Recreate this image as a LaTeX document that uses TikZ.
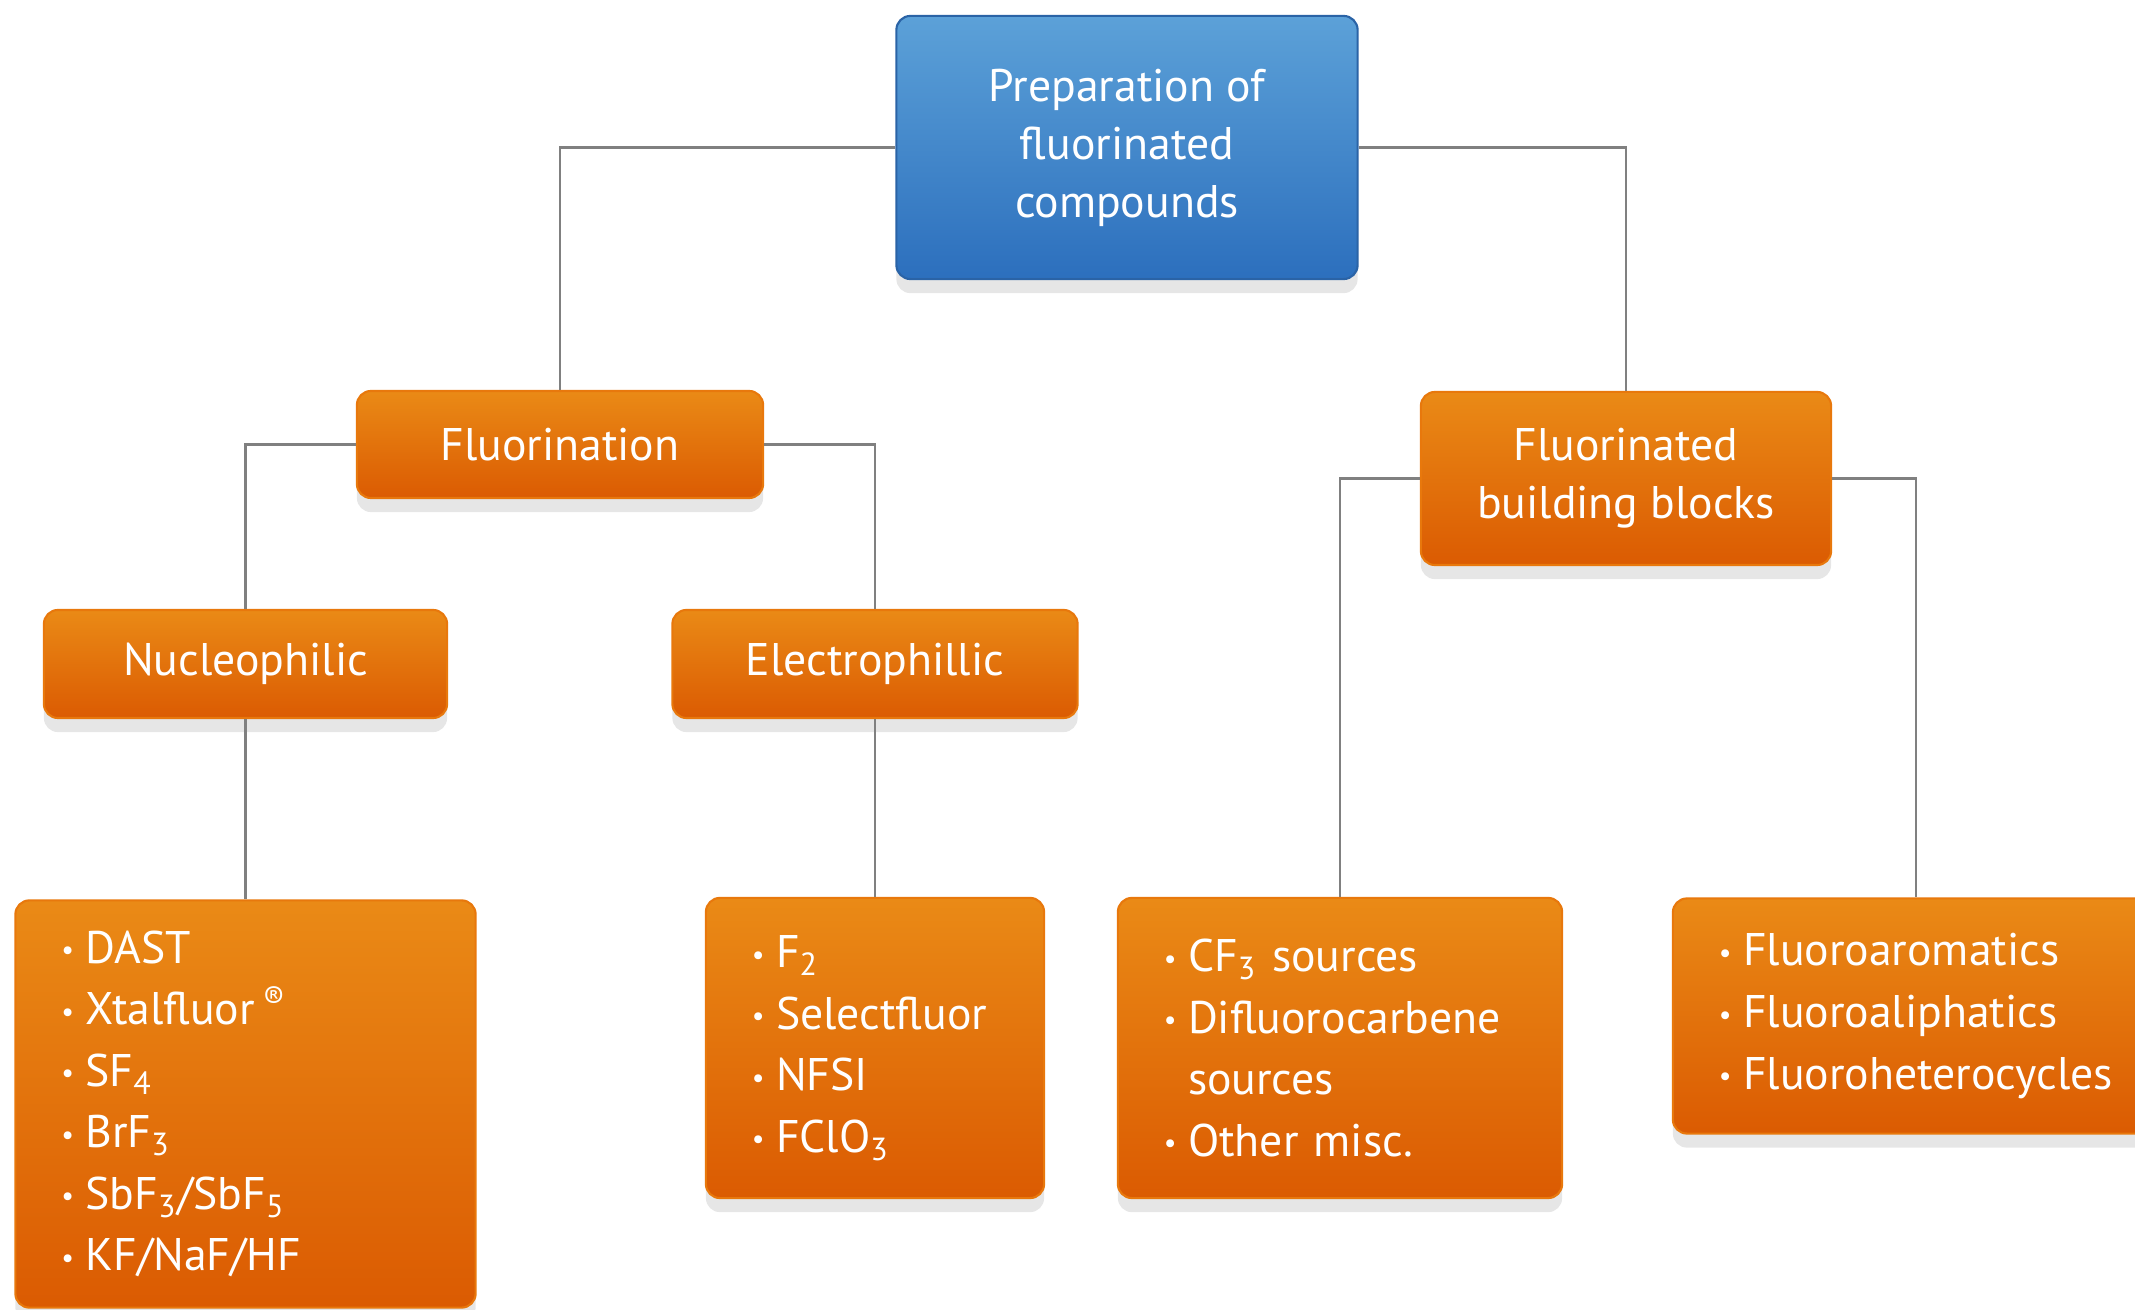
\documentclass[tikz,border=0pt]{standalone}
\usepackage{fontspec}
\setmainfont{PT Sans}
\usepackage{tikz}
\usetikzlibrary{shadows}
\usepackage{xcolor}
\definecolor{ortop}{HTML}{EA8A16}
\definecolor{orbot}{HTML}{DB5B02}
\definecolor{oredge}{HTML}{E8780C}
\definecolor{bltop}{HTML}{5CA1D8}
\definecolor{blbot}{HTML}{2C6FBD}
\definecolor{bledge}{HTML}{2A63A6}
\definecolor{wiregray}{HTML}{808080}
\newcommand{\bul}{\raisebox{0.15ex}{\fontsize{8}{8}\selectfont\textbullet}\hspace{0.25em}}
\newcommand{\sbs}[1]{\textsubscript{#1}}
\newcommand{\boxfont}{\fontsize{13}{16.5}\selectfont}
\newcommand{\listfont}{\fontsize{13}{17.5}\selectfont}

\tikzset{
  box/.style={rounded corners=4pt, draw=oredge, line width=0.6pt,
    top color=ortop, bottom color=orbot, text=white, font=\boxfont,
    align=center, inner sep=0pt,
    drop shadow={shadow xshift=0pt, shadow yshift=-4pt, opacity=0.2}},
  topbox/.style={box, draw=bledge, top color=bltop, bottom color=blbot},
  listbox/.style={box, align=left, font=\listfont, inner xsep=0.46cm, text width=#1},
  wire/.style={draw=wiregray, line width=0.8pt}
}

\begin{document}
\begin{tikzpicture}[x=0.01cm, y=-0.01cm]
\useasboundingbox (0,0) rectangle (2135,1310);
\clip (0,0) rectangle (2135,1310);
\node[topbox, minimum width=4.61cm, minimum height=2.63cm] (top) at (1127,147.5)
  {Preparation of\\fluorinated\\compounds};
\node[box, minimum width=4.06cm, minimum height=1.07cm] (fluor) at (560,444.5) {Fluorination};
\node[box, minimum width=4.10cm, minimum height=1.73cm] (fbb) at (1626,478.5)
  {Fluorinated\\building blocks};
\node[box, minimum width=4.03cm, minimum height=1.08cm] (nuc) at (245.5,664) {Nucleophilic};
\node[box, minimum width=4.05cm, minimum height=1.08cm] (elec) at (875,664) {Electrophillic};
\node[listbox=3.68cm, minimum height=4.07cm] (nuclist) at (245.5,1104)
  {\bul DAST\\
   \bul Xtalfluor\,\textsuperscript{\textregistered}\\
   \bul SF\sbs{4}\\
   \bul BrF\sbs{3}\\
   \bul SbF\sbs{3}/SbF\sbs{5}\\
   \bul KF/NaF/HF};
\node[listbox=2.46cm, minimum height=3.0cm] (eleclist) at (875,1048)
  {\bul F\sbs{2}\\
   \bul Selectfluor\\
   \bul NFSI\\
   \bul FClO\sbs{3}};
\node[listbox=3.52cm, minimum height=3.0cm] (cflist) at (1340,1048)
  {\bul CF\sbs{3} sources\\
   \bul Difluorocarbene\\
   \phantom{\bul}sources\\
   \bul Other misc.};
\node[listbox=3.94cm, minimum height=2.35cm] (arlist) at (1916,1016)
  {\bul Fluoroaromatics\\
   \bul Fluoroaliphatics\\
   \bul Fluoroheterocycles};
% connectors
\draw[wire] (top.west) -| (fluor.north);
\draw[wire] (top.east) -| (fbb.north);
\draw[wire] (fluor.west) -| (nuc.north);
\draw[wire] (fluor.east) -| (elec.north);
\draw[wire] (nuc.south) -- (nuclist.north);
\draw[wire] (elec.south) -- (eleclist.north);
\draw[wire] (fbb.west) -| (cflist.north);
\draw[wire] (fbb.east) -| (arlist.north);
\end{tikzpicture}
\end{document}
